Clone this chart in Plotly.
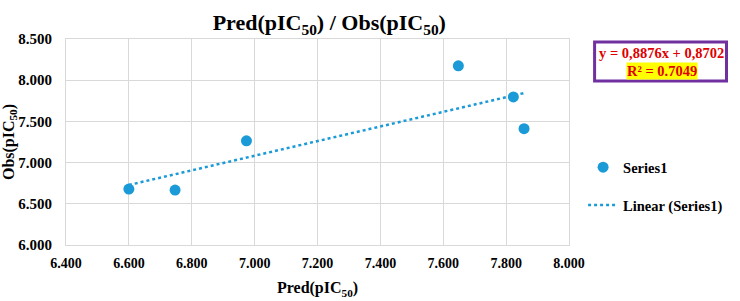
import plotly.graph_objects as go

# Data
pred = [6.600, 6.747, 6.974, 7.648, 7.823, 7.857]
obs = [6.679, 6.667, 7.264, 8.175, 7.797, 7.411]
slope = 0.8876
intercept = 0.8702
r2 = 0.7049
x_ticks = [6.4, 6.6, 6.8, 7.0, 7.2, 7.4, 7.6, 7.8, 8.0]
y_ticks = [6.0, 6.5, 7.0, 7.5, 8.0, 8.5]

FONT = "Liberation Serif"
BLUE = "#1B9AD8"

trend_x = [min(pred), max(pred)]
trend_y = [slope * v + intercept for v in trend_x]

fig = go.Figure()
fig.add_trace(go.Scatter(
    x=pred, y=obs, mode="markers", name="Series1",
    marker=dict(color=BLUE, size=11), legendgroup="a",
))
fig.add_trace(go.Scatter(
    x=trend_x, y=trend_y, mode="lines", name="Linear (Series1)",
    line=dict(color=BLUE, width=2.5, dash="dot"), legendgroup="b",
))

T, B = 39, 56
PH = 301 - T - B

def py(pix):
    return (301 - B - pix) / PH

fig.update_layout(
    width=740, height=301,
    margin=dict(l=66, r=163, t=T, b=B),
    paper_bgcolor="white", plot_bgcolor="white",
    font=dict(family=FONT, size=14, color="black", weight="bold"),
    title=dict(
        text="Pred(pIC<sub>50</sub>) / Obs(pIC<sub>50</sub>)",
        x=0.445, xanchor="center", y=0.925, yanchor="middle",
        font=dict(family=FONT, size=22, color="black", weight="bold"),
    ),
    xaxis=dict(
        range=[6.4, 8.0], tickvals=x_ticks,
        ticktext=[f"{v:.3f}" for v in x_ticks],
        showgrid=True, gridcolor="#D9D9D9", gridwidth=1,
        zeroline=False, showline=True, linecolor="#D9D9D9", mirror=True,
        ticks="", ticklabelstandoff=5, automargin=False,
        tickfont=dict(size=14),
        title=dict(text="Pred(pIC<sub>50</sub>)", font=dict(size=16), standoff=12),
    ),
    yaxis=dict(
        range=[6.0, 8.5], tickvals=y_ticks,
        ticktext=[f"{v:.3f}" for v in y_ticks],
        showgrid=True, gridcolor="#D9D9D9", gridwidth=1,
        zeroline=False, showline=True, linecolor="#D9D9D9", mirror=True,
        ticks="", ticklabelstandoff=10, automargin=False,
        tickfont=dict(size=15),
        title=dict(text="Obs(pIC<sub>50</sub>)", font=dict(size=16), standoff=6),
    ),
    legend=dict(
        x=1.028, xanchor="left", y=0.285, yanchor="middle",
        font=dict(size=14.5), tracegroupgap=16, bgcolor="rgba(0,0,0,0)",
    ),
    showlegend=True,
)

# Equation box
PW = 740 - 66 - 163
fig.add_shape(type="rect", xref="paper", yref="paper",
              x0=(603 - 66) / PW, x1=(737 - 66) / PW, y0=py(81), y1=py(42),
              line=dict(color="#7030A0", width=3), fillcolor="white", layer="above")
fig.add_annotation(xref="paper", yref="paper", x=(671 - 66) / PW, y=py(53),
                   text=f"y = {str(slope).replace('.', ',')}x + {str(intercept).replace('.', ',')}",
                   showarrow=False, xanchor="center", yanchor="middle",
                   font=dict(family=FONT, size=14.5, color="#E00000", weight="bold"))
fig.add_annotation(xref="paper", yref="paper", x=(671 - 66) / PW, y=py(71),
                   text=f"R² = {r2}", bgcolor="#FFFF00", borderpad=0,
                   showarrow=False, xanchor="center", yanchor="middle",
                   font=dict(family=FONT, size=14.5, color="#E00000", weight="bold"))

fig.write_html("out.html", config={"displayModeBar": False},
               post_script="document.body.style.margin='0';")
